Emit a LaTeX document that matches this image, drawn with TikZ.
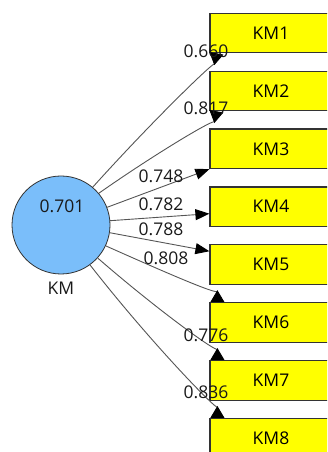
\documentclass[tikz,border=0pt]{standalone}
\usepackage{fontspec}
\setmainfont{Open Sans}
\usetikzlibrary{arrows.meta}
\definecolor{boxyellow}{RGB}{255,255,0}
\definecolor{latentblue}{RGB}{122,190,250}
\definecolor{edgegrey}{RGB}{85,85,85}
\begin{document}
\begin{tikzpicture}[x=1pt,y=1pt,
  indicator/.style={draw=black!80, line width=1.2pt, fill=boxyellow,
    minimum width=122pt, minimum height=39.5pt, inner sep=0pt,
    font=\fontsize{17.5}{20}\selectfont},
  latent/.style={circle, draw=black!80, line width=0.8pt, fill=latentblue,
    minimum size=98pt, inner sep=0pt},
  loading/.style={font=\fontsize{17.5}{20}\selectfont, inner sep=0pt, text=black!90},
  edge/.style={draw=edgegrey, line width=0.9pt},
  fwd/.style={edge, -{Triangle[length=14pt,width=11pt,color=black]}},
  bwd/.style={edge, -{Triangle[reversed,length=12pt,width=14pt,color=black]}},
]
\useasboundingbox (0,0) rectangle (327,452);
\clip (0,0) rectangle (327,452);

% indicator boxes
\node[indicator] (k1) at (271,419.0) {KM1};
\node[indicator] (k2) at (271,361.1) {KM2};
\node[indicator] (k3) at (271,303.2) {KM3};
\node[indicator] (k4) at (271,245.3) {KM4};
\node[indicator] (k5) at (271,187.4) {KM5};
\node[indicator] (k6) at (271,129.5) {KM6};
\node[indicator] (k7) at (271,71.6) {KM7};
\node[indicator] (k8) at (271,13.7) {KM8};

% latent construct
\node[latent] (c) at (61,227) {};
\node[loading] (r2) at (62,246) {0.701};
\node[loading] (cname) at (61,164) {KM};

% outer loadings
\draw[bwd] (c.50) to[out=48,in=-100,out distance=90pt,in distance=7pt] ([xshift=7pt]k1.south west);
\draw[bwd] (c.40) to[out=35,in=-100,out distance=70pt,in distance=7pt] ([xshift=7pt]k2.south west);
\draw[fwd] (c.21) -- (k3.south west);
\draw[fwd] (c.5) -- ([yshift=-7pt]k4.west);
\draw[fwd] (c.-9) -- ([yshift=-7pt]k5.north west);
\draw[bwd] (c.-25) to[out=-24,in=90,out distance=60pt,in distance=7pt] ([xshift=8pt]k6.north west);
\draw[bwd] (c.-42) to[out=-41,in=90,out distance=80pt,in distance=7pt] ([xshift=8pt]k7.north west);
\draw[bwd] (c.-54) to[out=-52,in=90,out distance=100pt,in distance=7pt] ([xshift=8pt]k8.north west);

% loading values
\node[loading] (l1) at (206,401) {0.660};
\node[loading] (l2) at (206,344) {0.817};
\node[loading] (l3) at (161,276) {0.748};
\node[loading] (l4) at (161,248) {0.782};
\node[loading] (l5) at (161,223) {0.788};
\node[loading] (l6) at (166,194) {0.808};
\node[loading] (l7) at (206,117) {0.776};
\node[loading] (l8) at (206,60) {0.836};
\end{tikzpicture}
\end{document}
